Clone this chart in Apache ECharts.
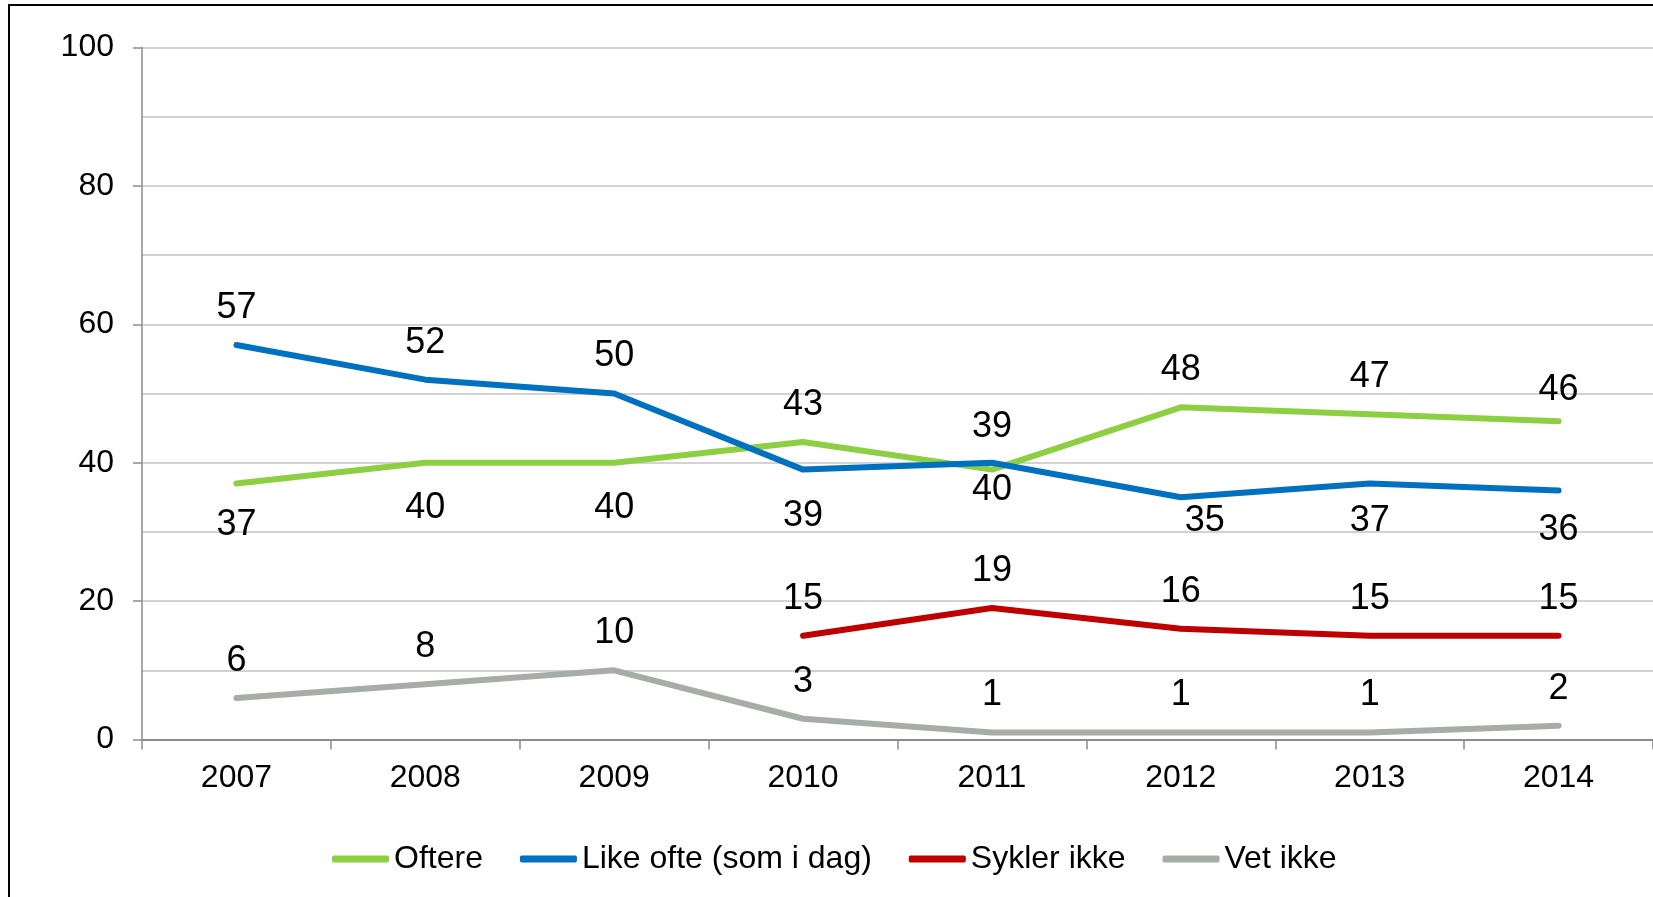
<!DOCTYPE html>
<html lang="no">
<head>
    <meta charset="UTF-8">
    <title>Sykling</title>
    <script src="https://cdn.jsdelivr.net/npm/echarts/dist/echarts.min.js"></script>
    <style>
        html, body { margin: 0; padding: 0; background: #fff; }
        #chart { width: 1653px; height: 897px; }
    </style>
</head>
<body>
    <div id="chart"></div>

    <script>
        // values
        const years = ['2007', '2008', '2009', '2010', '2011', '2012', '2013', '2014'];
        const oftere = [37, 40, 40, 43, 39, 48, 47, 46];
        const likeOfte = [57, 52, 50, 39, 40, 35, 37, 36];
        const syklerIkke = [null, null, null, 15, 19, 16, 15, 15];
        const vetIkke = [6, 8, 10, 3, 1, 1, 1, 2];
        const yTicks = [0, 20, 40, 60, 80, 100];

        const font = 'Liberation Sans, Arial, sans-serif';

        // green and blue labels swap sides once the lines cross
        function labelled(values, side, tweak) {
            return values.map((v, i) => {
                if (v === null) return v;
                let lab = { show: true, position: side(i), distance: side(i) === 'top' ? 19 : 24 };
                if (tweak && tweak[i]) Object.assign(lab, tweak[i]);
                return { value: v, label: lab };
            });
        }

        function line(name, color, data) {
            return {
                name: name,
                type: 'line',
                data: data,
                // labels need a symbol, keep it invisible
                symbol: 'circle',
                symbolSize: 0.1,
                showSymbol: true,
                connectNulls: false,
                lineStyle: { color: color, width: 6, cap: 'round', join: 'round' },
                itemStyle: { color: color },
                label: {
                    show: true,
                    color: '#000',
                    fontFamily: font,
                    fontSize: 36,
                    lineHeight: 36
                },
                emphasis: { disabled: true }
            };
        }

        let chart = echarts.init(document.getElementById('chart'));

        let option = {
            animation: false,
            backgroundColor: '#fff',
            graphic: [{
                type: 'rect',
                shape: { x: 9, y: 5, width: 1700, height: 1000 },
                style: { fill: 'none', stroke: '#000', lineWidth: 2 },
                z: 100
            }],
            grid: { left: 142, top: 47.5, width: 1517, height: 692 },
            legend: {
                left: 327,
                top: 838,
                icon: 'roundRect',
                itemWidth: 57,
                itemHeight: 7,
                itemGap: 37,
                textStyle: { fontFamily: font, fontSize: 32, color: '#000' },
                data: ['Oftere', 'Like ofte (som i dag)', 'Sykler ikke', 'Vet ikke']
            },
            xAxis: {
                type: 'category',
                data: years,
                boundaryGap: true,
                axisLine: { lineStyle: { color: '#8c8c8c', width: 2 } },
                axisTick: { show: true, length: 10, lineStyle: { color: '#8c8c8c', width: 1.5 } },
                axisLabel: { fontFamily: font, fontSize: 32, color: '#000', margin: 23 }
            },
            yAxis: {
                type: 'value',
                min: yTicks[0],
                max: yTicks[yTicks.length - 1],
                interval: yTicks[1] - yTicks[0],
                axisLine: { show: true, lineStyle: { color: '#8c8c8c', width: 1.5 } },
                axisTick: { show: true, length: 9, lineStyle: { color: '#8c8c8c', width: 1.5 } },
                axisLabel: { fontFamily: font, fontSize: 32, color: '#000', margin: 28 },
                splitLine: { lineStyle: { color: '#c4c4c4', width: 1.5 } },
                minorTick: { show: false, splitNumber: 2 },
                minorSplitLine: { show: true, lineStyle: { color: '#c4c4c4', width: 1.5 } }
            },
            series: [
                line('Oftere', '#8dcf42',
                    labelled(oftere, i => i < 3 ? 'bottom' : 'top',
                        { 1: { distance: 27 }, 2: { distance: 27 }, 4: { distance: 24 }, 7: { distance: 13 } })),
                line('Like ofte (som i dag)', '#0070c0',
                    labelled(likeOfte, i => i < 3 ? 'top' : 'bottom',
                        { 3: { distance: 28 }, 4: { distance: 9 }, 5: { distance: 6, offset: [24, 0] }, 6: { distance: 20 }, 7: { distance: 22 } })),
                line('Sykler ikke', '#c00000', labelled(syklerIkke, () => 'top')),
                line('Vet ikke', '#a6ada6', labelled(vetIkke, () => 'top'))
            ]
        };

        chart.setOption(option);
    </script>
</body>
</html>
